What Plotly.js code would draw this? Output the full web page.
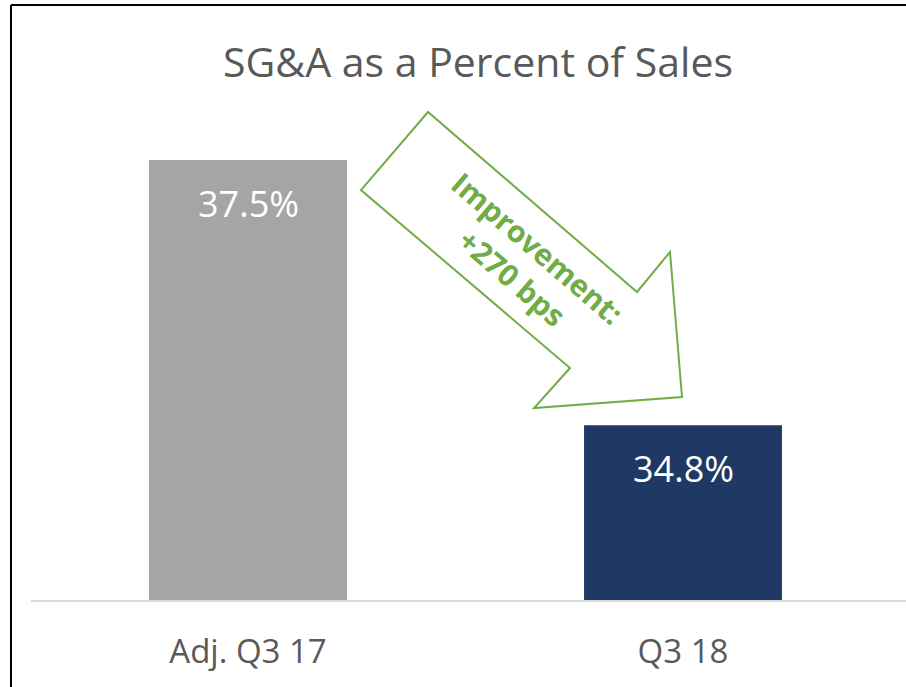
<!DOCTYPE html>
<html>
<head>
<meta charset="utf-8">
<script src="https://cdn.plot.ly/plotly-3.0.1.min.js"></script>
<style>html,body{margin:0;padding:0;background:#fff;}#chart{width:906px;height:687px;}</style>
</head>
<body>
<div id="chart"></div>
<script>
const categories = ["Adj. Q3 17", "Q3 18"];
const values = [37.5, 34.8];
const barColors = ["#A5A5A5", "#203864"];
const chartTitle = "SG&A as a Percent of Sales";
const calloutText = "Improvement:<br>+270 bps";

const W = 906, H = 687, L = 31, R = 0, T = 109, B = 87;
const pw = W - L - R, ph = H - T - B;
const px = x => (x - L) / pw;
const py = y => (H - B - y) / ph;

// arrow outline in pixel space
const arrowPts = [[428,112],[361,190],[570,368],[534,408],[682,397],[670,252],[637,292]];
const arrowPath = arrowPts.map((p,i)=>(i?'L':'M')+px(p[0]).toFixed(4)+','+py(p[1]).toFixed(4)).join(' ')+' Z';

const FONT = "Open Sans, Noto Sans, sans-serif";

const trace = {
  type: 'bar',
  x: categories,
  y: values,
  marker: {color: barColors, line: {width: 0}},
  hoverinfo: 'skip',
  base: 0
};

const labelAnns = categories.map((c,i)=>({
  x: c, y: values[i], xref: 'x', yref: 'y',
  text: values[i].toFixed(1) + '%',
  showarrow: false, yshift: -43,
  xanchor: 'center', yanchor: 'middle',
  font: {family: FONT, size: 36, color: '#FFFFFF'}
}));

const layout = {
  width: W, height: H,
  margin: {l: L, r: R, t: T, b: B, pad: 0},
  paper_bgcolor: '#FFFFFF', plot_bgcolor: '#FFFFFF',
  showlegend: false,
  bargap: 0.545,
  title: {
    text: chartTitle, xref: 'paper', yref: 'container',
    x: (478 - L) / pw, xanchor: 'center', y: 1 - 63/H, yanchor: 'middle',
    font: {family: FONT, size: 41, color: '#595959'}
  },
  xaxis: {
    type: 'category', range: [-(248-L)/435, 1 + (W-R-683)/435],
    showline: true, linecolor: '#D9D9D9', linewidth: 2,
    ticks: '', showgrid: false, zeroline: false,
    tickfont: {family: FONT, size: 33, color: '#595959'},
    ticklabelstandoff: 21, fixedrange: true
  },
  yaxis: {
    range: [33.02, 38.02], visible: false, showgrid: false, zeroline: false, fixedrange: true
  },
  shapes: [
    {type: 'path', xref: 'paper', yref: 'paper', path: arrowPath,
     fillcolor: '#FFFFFF', line: {color: '#70AD47', width: 2}},
    {type: 'line', xref: 'paper', yref: 'paper', x0: px(11), x1: px(11), y0: py(5), y1: py(H+2),
     line: {color: '#000000', width: 2}},
    {type: 'line', xref: 'paper', yref: 'paper', x0: px(11), x1: px(W+2), y0: py(5), y1: py(5),
     line: {color: '#000000', width: 2}}
  ],
  annotations: labelAnns.concat([{
    xref: 'paper', yref: 'paper', x: px(525), y: py(263),
    xanchor: 'center', yanchor: 'middle',
    text: '<b>' + calloutText + '</b>', showarrow: false, textangle: 40.7,
    font: {family: FONT, size: 30, color: '#70AD47'}, align: 'center'
  }])
};

Plotly.newPlot('chart', [trace], layout, {displayModeBar: false, staticPlot: true});
</script>
</body>
</html>
